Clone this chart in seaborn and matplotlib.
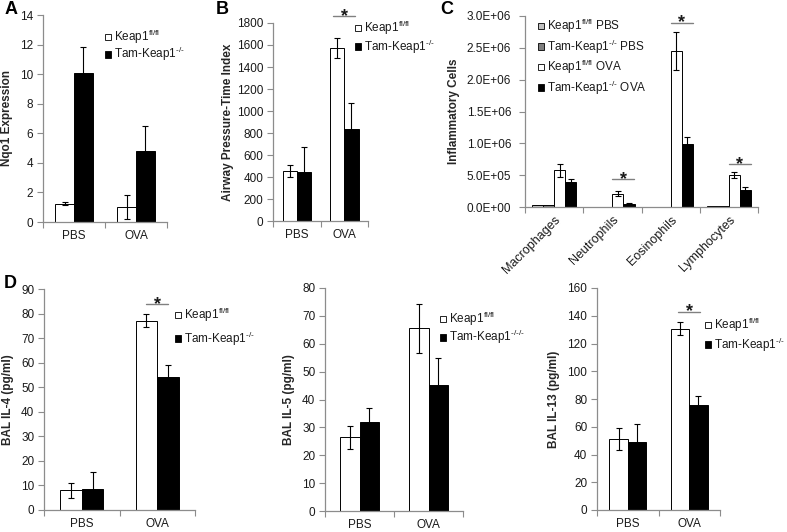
import numpy as np
import pandas as pd
import matplotlib
matplotlib.use('Agg')
import matplotlib.pyplot as plt
from matplotlib.patches import Patch
from matplotlib.ticker import FixedLocator, FixedFormatter, NullFormatter, FuncFormatter
import seaborn as sns

# ---- data ----
treatments = ['PBS', 'OVA']

# A: Nqo1 expression
nqo1_keap1 = [1.25, 1.0]
nqo1_keap1_err = [0.12, 0.8]
nqo1_tam = [10.1, 4.8]
nqo1_tam_err = [1.75, 1.7]

# B: airway pressure-time index
apti_keap1 = [455, 1570]
apti_keap1_err = [55, 92]
apti_tam = [445, 838]
apti_tam_err = [232, 235]

# C: inflammatory cells
cell_types = ['Macrophages', 'Neutrophils', 'Eosinophils', 'Lymphocytes']
cells_keap1_pbs = [3.5e4, 3e3, 3e3, 8e3]
cells_tam_pbs = [3.5e4, 3e3, 3e3, 8e3]
cells_keap1_ova = [5.74e5, 2.09e5, 2.45e6, 5.0e5]
cells_keap1_ova_err = [1.0e5, 4.0e4, 3.0e5, 4.5e4]
cells_tam_ova = [3.9e5, 5.2e4, 9.9e5, 2.7e5]
cells_tam_ova_err = [4.7e4, 1.6e4, 1.15e5, 3.7e4]

# D: BAL cytokines
il4_keap1 = [8.0, 77.1]
il4_keap1_err = [3.1, 2.6]
il4_tam = [8.4, 54.0]
il4_tam_err = [7.2, 5.0]
il5_keap1 = [26.4, 65.5]
il5_keap1_err = [4.1, 8.7]
il5_tam = [31.8, 45.1]
il5_tam_err = [5.0, 9.7]
il13_keap1 = [51.0, 130.5]
il13_keap1_err = [8.0, 4.7]
il13_tam = [49.3, 75.5]
il13_tam_err = [13.0, 6.7]

KEAP = r'Keap1$^{\text{fl/fl}}$'
TAM = r'Tam-Keap1$^{\text{-/-}}$'
TAM3 = r'Tam-Keap1$^{\text{-/-/-}}$'

sns.set_style('white')
plt.rcParams['font.family'] = ['Liberation Sans', 'DejaVu Sans']
plt.rcParams['mathtext.fontset'] = 'custom'
plt.rcParams['mathtext.rm'] = 'Liberation Sans'
plt.rcParams['text.color'] = '#1a1a1a'

W, H = 787, 532
FS = 8.5
SPINE = '#8c8c8c'
fig = plt.figure(figsize=(W / 100, H / 100), dpi=100)


def add_axes(left, top, right, bottom):
    return fig.add_axes([left / W, 1 - bottom / H, (right - left) / W, (bottom - top) / H])


def style_axes(ax, cats, ymax, ystep, ylabel, fmt=None, labelpad=5):
    n = len(cats)
    ax.set_xlim(-0.5, n - 0.5)
    ax.set_ylim(0, ymax)
    ax.set_yticks(np.arange(0, ymax + ystep / 2, ystep))
    if fmt is not None:
        ax.yaxis.set_major_formatter(FuncFormatter(fmt))
    ax.xaxis.set_major_locator(FixedLocator(np.arange(-0.5, n)))
    ax.xaxis.set_major_formatter(NullFormatter())
    ax.xaxis.set_minor_locator(FixedLocator(np.arange(n)))
    ax.xaxis.set_minor_formatter(FixedFormatter(cats))
    ax.tick_params(axis='x', which='major', direction='out', length=4, width=0.8,
                   color=SPINE, bottom=True)
    ax.tick_params(axis='x', which='minor', length=0, pad=6, labelsize=FS, labelcolor='#1a1a1a')
    ax.tick_params(axis='y', direction='out', length=4, width=0.8, color=SPINE,
                   left=True, labelsize=FS, labelcolor='#1a1a1a', pad=3)
    sns.despine(ax=ax)
    for s in ['left', 'bottom']:
        ax.spines[s].set_color(SPINE)
        ax.spines[s].set_linewidth(0.9)
    ax.set_xlabel('')
    ax.set_ylabel(ylabel, fontsize=FS, fontweight='bold', labelpad=labelpad)


def bars(ax, cats, series, errs, colors, width):
    names = [f's{i}' for i in range(len(series))]
    df = pd.DataFrame({
        'cat': [c for _ in series for c in cats],
        'grp': [nm for nm in names for _ in cats],
        'val': [v for s in series for v in s],
    })
    sns.barplot(data=df, x='cat', y='val', hue='grp', hue_order=names, order=cats,
                palette=colors, saturation=1, edgecolor='black', linewidth=0.7,
                width=width, errorbar=None, legend=False, ax=ax)
    for cont, e in zip(ax.containers, errs):
        if e is None:
            continue
        xs = [p.get_x() + p.get_width() / 2 for p in cont]
        ys = [p.get_height() for p in cont]
        ax.errorbar(xs, ys, yerr=e, fmt='none', ecolor='black', elinewidth=0.8,
                    capsize=2.3, capthick=0.8, zorder=5)


def sig(ax, left_bar, right_bar, y, half_px=11):
    cx = right_bar.get_x()
    p0 = ax.transData.transform((0, 0))
    p1 = ax.transData.transform((1, 0))
    hw = half_px / (p1[0] - p0[0])
    ax.plot([cx - hw, cx + hw], [y, y], color='#808080', lw=1, clip_on=False, zorder=6)
    ax.annotate('*', xy=(cx, y), xytext=(0, -3.5), textcoords='offset points',
                ha='center', va='baseline', fontsize=13, fontweight='bold',
                annotation_clip=False)


def legend(labels, colors, x, y, spacing):
    handles = [Patch(facecolor=c, edgecolor='black', linewidth=0.6) for c in colors]
    fig.legend(handles, labels, loc='upper left', bbox_to_anchor=(x / W, 1 - y / H),
               frameon=False, handlelength=0.5, handleheight=0.5, handletextpad=0.25,
               labelspacing=spacing, borderpad=0, borderaxespad=0, fontsize=FS)


pair_colors = ['white', 'black']

# ---- A ----
axA = add_axes(43, 15, 167, 222)
bars(axA, treatments, [nqo1_keap1, nqo1_tam], [nqo1_keap1_err, nqo1_tam_err], pair_colors, 0.6)
style_axes(axA, treatments, 14, 2, 'Nqo1 Expression')
legend([KEAP, TAM], pair_colors, 105, 28, -0.08)

# ---- B ----
axB = add_axes(273, 23, 368, 221)
bars(axB, treatments, [apti_keap1, apti_tam], [apti_keap1_err, apti_tam_err], pair_colors, 0.6)
style_axes(axB, treatments, 1800, 200, 'Airway Pressure-Time Index', labelpad=2)
sig(axB, axB.containers[0][1], axB.containers[1][1], 1866)
legend([KEAP, TAM], pair_colors, 355, 19, 0.05)

# ---- C ----
axC = add_axes(525, 16, 758, 207)
c_colors = ['#c0c0c0', '#7f7f7f', 'white', 'black']
bars(axC, cell_types, [cells_keap1_pbs, cells_tam_pbs, cells_keap1_ova, cells_tam_ova],
     [None, None, cells_keap1_ova_err, cells_tam_ova_err], c_colors, 0.76)
style_axes(axC, cell_types, 3.0e6, 5.0e5, 'Inflammatory Cells',
           fmt=lambda v, pos: f'{v:.1E}')
axC.tick_params(axis='y', pad=6)
axC.tick_params(axis='x', which='minor', pad=5, labelsize=9)
for lab in axC.get_xticklabels(minor=True):
    lab.set_rotation(45)
    lab.set_ha('right')
    lab.set_rotation_mode('anchor')
for i, y in [(1, 4.4e5), (2, 2.895e6), (3, 6.75e5)]:
    sig(axC, axC.containers[2][i], axC.containers[3][i], y)
legend([KEAP + ' PBS', TAM + ' PBS', KEAP + ' OVA', TAM + ' OVA'], c_colors, 538, 17, 0.2)

# ---- D ----
axD1 = add_axes(44, 289, 195, 510)
bars(axD1, treatments, [il4_keap1, il4_tam], [il4_keap1_err, il4_tam_err], pair_colors, 0.57)
style_axes(axD1, treatments, 90, 10, 'BAL IL-4 (pg/ml)')
sig(axD1, axD1.containers[0][1], axD1.containers[1][1], 84)
legend([KEAP, TAM], pair_colors, 175, 306, 0.45)

axD2 = add_axes(325, 288, 463, 511)
bars(axD2, treatments, [il5_keap1, il5_tam], [il5_keap1_err, il5_tam_err], pair_colors, 0.57)
style_axes(axD2, treatments, 80, 10, 'BAL IL-5 (pg/ml)')
legend([KEAP, TAM3], pair_colors, 440, 310, 0.0)

axD3 = add_axes(597, 288, 720, 510)
bars(axD3, treatments, [il13_keap1, il13_tam], [il13_keap1_err, il13_tam_err], pair_colors, 0.6)
style_axes(axD3, treatments, 160, 20, 'BAL IL-13 (pg/ml)')
sig(axD3, axD3.containers[0][1], axD3.containers[1][1], 143)
legend([KEAP, TAM], pair_colors, 705, 316, 0.1)

# panel letters
for letter, x, y in [('A', 11, 10), ('B', 222, 10), ('C', 447, 10), ('D', 10, 283)]:
    fig.text(x / W, 1 - y / H, letter, fontsize=13, fontweight='bold',
             ha='center', va='center', color='black')

fig.savefig('out.png', dpi=100)
